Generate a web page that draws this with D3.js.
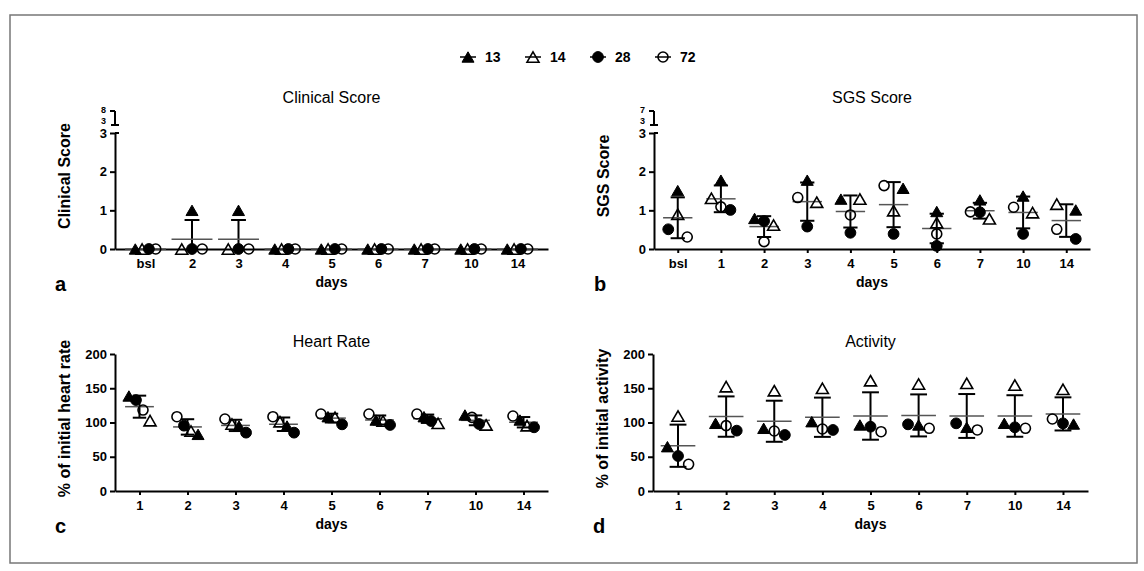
<!DOCTYPE html>
<html>
<head>
<meta charset="utf-8">
<script src="https://cdnjs.cloudflare.com/ajax/libs/d3/7.8.5/d3.min.js"></script>
<style>
  body { margin: 0; background: #fff; }
  svg { display: block; }
</style>
</head>
<body>
<svg id="vis"></svg>
<script>
const W = 1144, H = 571;
const FONT = "Arial, 'Liberation Sans', sans-serif";

// series (legend order)
const seriesNames = ['13', '14', '28', '72'];

// a: clinical score
const clinicalDays = ['bsl', '2', '3', '4', '5', '6', '7', '10', '14'];
const clinical13 = [0, 1, 1, 0, 0, 0, 0, 0, 0];
const clinical14 = [0, 0, 0, 0, 0, 0, 0, 0, 0];
const clinical28 = [0, 0, 0, 0, 0, 0, 0, 0, 0];
const clinical72 = [0, 0, 0, 0, 0, 0, 0, 0, 0];

// b: SGS score
const sgsDays = ['bsl', '1', '2', '3', '4', '5', '6', '7', '10', '14'];
const sgs13 = [1.51, 1.78, 0.79, 1.78, 1.29, 1.57, 0.97, 1.27, 1.37, 1.01];
const sgs14 = [0.90, 1.31, 0.62, 1.21, 1.29, 0.99, 0.68, 0.78, 0.94, 1.16];
const sgs28 = [0.51, 1.01, 0.72, 0.58, 0.42, 0.39, 0.08, 0.95, 0.39, 0.26];
const sgs72 = [0.31, 1.09, 0.19, 1.33, 0.88, 1.64, 0.39, 0.96, 1.08, 0.51];

// c: heart rate (% of initial)
const hrDays = ['1', '2', '3', '4', '5', '6', '7', '10', '14'];
const hr13 = [138.7, 82.7, 94.9, 94.9, 108.5, 103.6, 108.5, 111.0, 103.6];
const hr14 = [102.7, 87.6, 97.8, 101.2, 107.5, 102.2, 98.8, 96.4, 95.4];
const hr28 = [132.8, 95.4, 85.2, 85.2, 97.3, 96.4, 102.2, 97.8, 93.0];
const hr72 = [118.2, 108.5, 105.1, 108.5, 112.4, 112.4, 112.4, 107.5, 109.5];

// d: activity (% of initial)
const actDays = ['1', '2', '3', '4', '5', '6', '7', '10', '14'];
const act13 = [64.7, 98.8, 91.5, 101.2, 96.4, 96.4, 93.0, 98.8, 97.8];
const act14 = [109.5, 152.3, 146.4, 149.9, 161.0, 156.2, 157.2, 154.7, 148.5];
const act28 = [51.1, 88.1, 81.8, 89.1, 93.9, 97.3, 98.8, 93.0, 98.8];
const act72 = [39.0, 95.4, 87.6, 90.5, 86.6, 91.5, 89.1, 91.5, 105.1];

const scoreTicks = [0, 1, 2, 3];
const pctTicks = [0, 50, 100, 150, 200];

let svg = d3.select('#vis').attr('width', W).attr('height', H)
  .style('font-family', FONT);

// outer frame
svg.append('rect')
  .attr('x', 10).attr('y', 15).attr('width', 1127).attr('height', 548)
  .attr('fill', 'none').attr('stroke', '#777').attr('stroke-width', 1.5);

// marker drawing: 0 filled triangle, 1 open triangle, 2 filled circle, 3 open circle
function drawMarker(g, s, x, y) {
  if (s === 0 || s === 1) {
    g.append('path').attr('d', 'M0,-5.2L6,5.2L-6,5.2Z')
      .attr('transform', `translate(${x},${y})`)
      .attr('fill', s === 0 ? '#000' : 'none')
      .attr('stroke', '#000').attr('stroke-width', s === 0 ? 1 : 1.6);
  } else {
    g.append('circle').attr('cx', x).attr('cy', y)
      .attr('r', s === 2 ? 5.4 : 5)
      .attr('fill', s === 2 ? '#000' : 'none')
      .attr('stroke', '#000').attr('stroke-width', s === 2 ? 1 : 1.6);
  }
}

// legend
const legendX = d3.scalePoint().domain(seriesNames).range([468, 663]);
let legend = svg.append('g');
seriesNames.forEach((name, i) => {
  const cx = legendX(name);
  legend.append('line').attr('x1', cx - 8).attr('x2', cx + 8)
    .attr('y1', 57).attr('y2', 57).attr('stroke', '#000').attr('stroke-width', 1.5);
  drawMarker(legend, i, cx, 57);
  legend.append('text').attr('x', cx + 17).attr('y', 62)
    .attr('font-size', 14).attr('font-weight', 'bold').text(name);
});

const panels = [
  { letter: 'a', title: 'Clinical Score', yLabel: 'Clinical Score', days: clinicalDays,
    series: [clinical13, clinical14, clinical28, clinical72], ticks: scoreTicks, breakTop: 8,
    x0: 115, x1: 548, yb: 249, yt: 133, pad: 0.656, meanW: 0.88, capW: 0.32 },
  { letter: 'b', title: 'SGS Score', yLabel: 'SGS Score', days: sgsDays,
    series: [sgs13, sgs14, sgs28, sgs72], ticks: scoreTicks, breakTop: 7,
    x0: 654, x1: 1090, yb: 249, yt: 133, pad: 0.55, meanW: 0.68, capW: 0.33 },
  { letter: 'c', title: 'Heart Rate', yLabel: '% of initial heart rate', days: hrDays,
    series: [hr13, hr14, hr28, hr72], ticks: pctTicks, breakTop: null,
    x0: 115, x1: 548, yb: 491, yt: 354, pad: 0.51, meanW: 0.6, capW: 0.28 },
  { letter: 'd', title: 'Activity', yLabel: '% of initial activity', days: actDays,
    series: [act13, act14, act28, act72], ticks: pctTicks, breakTop: null,
    x0: 653, x1: 1088, yb: 491, yt: 354, pad: 0.52, meanW: 0.72, capW: 0.35 }
];

// spread points that overlap vertically into rows (GraphPad-like scatter)
function spreadPoints(pts, half) {
  pts.sort((a, b) => a.py - b.py || a.s - b.s);
  const rows = [];
  pts.forEach(p => {
    const last = rows[rows.length - 1];
    if (last && p.py - last[last.length - 1].py < 11) last.push(p);
    else rows.push([p]);
  });
  rows.forEach(r => {
    const k = r.length;
    r.forEach((p, i) => { p.dx = k === 1 ? 0 : -half + 2 * half * i / (k - 1); });
  });
  return pts;
}

panels.forEach(p => {
  const g = svg.append('g');
  const yMax = d3.max(p.ticks);
  const x = d3.scalePoint().domain(p.days).range([p.x0, p.x1]).padding(p.pad);
  const y = d3.scaleLinear().domain([0, yMax]).range([p.yb, p.yt]);
  const step = x.step();

  // title
  g.append('text').attr('x', (p.x0 + p.x1) / 2).attr('y', p.breakTop ? 103 : 347)
    .attr('text-anchor', 'middle').attr('font-size', 16).text(p.title);

  // y axis
  const yAxis = g.append('g').attr('transform', `translate(${p.x0},0)`)
    .call(d3.axisLeft(y).tickValues(p.ticks).tickFormat(d3.format('d'))
      .tickSize(5).tickSizeOuter(0).tickPadding(3));
  // x axis
  const xAxis = g.append('g').attr('transform', `translate(0,${p.yb})`)
    .call(d3.axisBottom(x).tickSize(4).tickSizeOuter(0).tickPadding(6));
  [yAxis, xAxis].forEach(a => {
    a.attr('font-family', FONT).attr('font-size', 13).attr('font-weight', 'bold');
    a.selectAll('path, line').attr('stroke', '#000').attr('stroke-width', 2);
    a.selectAll('text').attr('fill', '#000');
  });

  // axis break on the score panels
  if (p.breakTop) {
    const yTop = d3.scaleLinear().domain([yMax, p.breakTop]).range([125, 111]);
    g.append('line').attr('x1', p.x0).attr('x2', p.x0)
      .attr('y1', yTop(yMax)).attr('y2', yTop(p.breakTop))
      .attr('stroke', '#000').attr('stroke-width', 2);
    g.append('line').attr('x1', p.x0 - 5).attr('x2', p.x0)
      .attr('y1', yTop(p.breakTop)).attr('y2', yTop(p.breakTop))
      .attr('stroke', '#000').attr('stroke-width', 2);
    g.append('line').attr('x1', p.x0 - 4).attr('x2', p.x0 + 4)
      .attr('y1', yTop(yMax)).attr('y2', yTop(yMax))
      .attr('stroke', '#000').attr('stroke-width', 2);
    g.append('line').attr('x1', p.x0).attr('x2', p.x0 + 4)
      .attr('y1', y(yMax)).attr('y2', y(yMax))
      .attr('stroke', '#000').attr('stroke-width', 2);
    // small stacked labels of the break segment
    g.append('text').attr('x', p.x0 - 9).attr('y', yTop(p.breakTop) + 2.3)
      .attr('text-anchor', 'end').attr('font-size', 9).attr('font-weight', 'bold')
      .text(p.breakTop);
    g.append('text').attr('x', p.x0 - 9).attr('y', yTop(yMax) - 1.5)
      .attr('text-anchor', 'end').attr('font-size', 9).attr('font-weight', 'bold')
      .text(yMax);
  }

  // x axis title
  g.append('text').attr('x', (p.x0 + p.x1) / 2).attr('y', p.yb + 38)
    .attr('text-anchor', 'middle').attr('font-size', 14).attr('font-weight', 'bold')
    .text('days');

  // y axis title
  const top = p.breakTop ? 111 : p.yt;
  g.append('text')
    .attr('transform', `translate(${p.x0 - 45},${top + (p.yb - top) / 2 - 4}) rotate(-90)`)
    .attr('text-anchor', 'middle').attr('font-size', 16).attr('font-weight', 'bold')
    .text(p.yLabel);

  // panel letter
  g.append('text').attr('x', p.x0 - 60).attr('y', p.yb + 42)
    .attr('font-size', 20).attr('font-weight', 'bold').text(p.letter);

  // mean +/- SD and points per day
  p.days.forEach((day, di) => {
    const cx = x(day);
    const vals = p.series.map(s => s[di]);
    const m = d3.mean(vals);
    const sd = d3.deviation(vals);
    const hi = m + sd;
    const lo = Math.max(0, m - sd);
    const capHalf = step * p.capW / 2;
    if (sd > 0) {
      g.append('line').attr('x1', cx).attr('x2', cx).attr('y1', y(hi)).attr('y2', y(lo))
        .attr('stroke', '#000').attr('stroke-width', 2);
      g.append('line').attr('x1', cx - capHalf).attr('x2', cx + capHalf)
        .attr('y1', y(hi)).attr('y2', y(hi)).attr('stroke', '#000').attr('stroke-width', 2);
      if (m - sd > 0) {
        g.append('line').attr('x1', cx - capHalf).attr('x2', cx + capHalf)
          .attr('y1', y(lo)).attr('y2', y(lo)).attr('stroke', '#000').attr('stroke-width', 2);
      }
    }
    const meanHalf = step * p.meanW / 2;
    g.append('line').attr('x1', cx - meanHalf).attr('x2', cx + meanHalf)
      .attr('y1', y(m)).attr('y2', y(m)).attr('stroke', '#555').attr('stroke-width', 1.5);

    const pts = spreadPoints(vals.map((v, s) => ({ s: s, v: v, py: y(v) })), step * 0.22);
    pts.forEach(pt => drawMarker(g, pt.s, cx + pt.dx, pt.py));
  });
});
</script>
</body>
</html>
